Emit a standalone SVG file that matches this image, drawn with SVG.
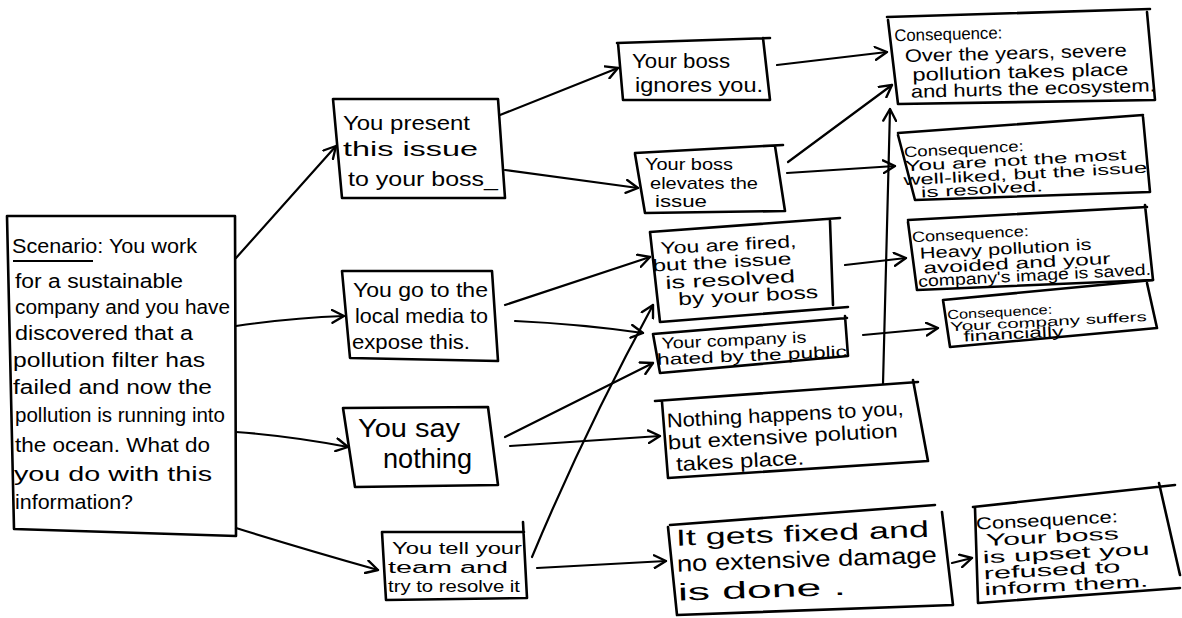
<svg xmlns="http://www.w3.org/2000/svg" width="1182" height="618" viewBox="0 0 1182 618">
<style>
.box{fill:none;stroke:#000;stroke-width:2.6;stroke-linecap:round;stroke-linejoin:round}
.con{fill:none;stroke:#000;stroke-width:2.2;stroke-linecap:round;marker-end:url(#arr)}
.t{font-family:"Liberation Sans",Arial,sans-serif;fill:#000;font-size:20px}
</style>
<defs>
<marker id="arr" viewBox="0 0 14 14" refX="12" refY="7" markerWidth="15" markerHeight="15" markerUnits="userSpaceOnUse" orient="auto">
<path d="M1,1 L12,7 L1,13" fill="none" stroke="#000" stroke-width="2.2" stroke-linecap="round" stroke-linejoin="round"/>
</marker>
</defs>
<rect width="1182" height="618" fill="#fff"/>

<g id="connectors">
<path class="con" d="M236,258 L336,146"/>
<path class="con" d="M236,326 Q290,318 344,316"/>
<path class="con" d="M236,432 Q290,436 348,447"/>
<path class="con" d="M236,528 Q300,548 378,570"/>
<path class="con" d="M500,115 L618,68"/>
<path class="con" d="M505,170 L638,188"/>
<path class="con" d="M505,305 L650,257"/>
<path class="con" d="M515,321 Q580,324 643,333"/>
<path class="con" d="M505,437 L653,363"/>
<path class="con" d="M510,446 L660,436"/>
<path class="con" d="M532,557 Q585,430 653,305"/>
<path class="con" d="M537,568 L666,561"/>
<path class="con" d="M777,65 L887,52"/>
<path class="con" d="M788,162 L892,85"/>
<path class="con" d="M787,173 L895,166"/>
<path class="con" d="M845,265 L906,258"/>
<path class="con" d="M863,335 L938,328"/>
<path class="con" d="M883,384 L890,109"/>
<path class="con" d="M952,563 L972,558"/>
</g>

<g id="scenario">
<path class="box" d="M7,216 L235,216 L236,536 L14,529 Z"/>
<line x1="13" y1="261" x2="93" y2="261" stroke="#000" stroke-width="2"/>
<text class="t" x="12" y="253" textLength="185" lengthAdjust="spacingAndGlyphs">Scenario: You work</text>
<text class="t" x="15" y="288" textLength="168" lengthAdjust="spacingAndGlyphs">for a sustainable</text>
<text class="t" x="15" y="314" textLength="215" lengthAdjust="spacingAndGlyphs">company and you have</text>
<text class="t" x="15" y="340" textLength="178" lengthAdjust="spacingAndGlyphs">discovered that a</text>
<text class="t" x="13" y="367" textLength="192" lengthAdjust="spacingAndGlyphs">pollution filter has</text>
<text class="t" x="13" y="394" textLength="199" lengthAdjust="spacingAndGlyphs">failed and now the</text>
<text class="t" x="15" y="422" textLength="210" lengthAdjust="spacingAndGlyphs">pollution is running into</text>
<text class="t" x="15" y="452" textLength="195" lengthAdjust="spacingAndGlyphs">the ocean. What do</text>
<text class="t" x="14" y="481" textLength="198" lengthAdjust="spacingAndGlyphs">you do with this</text>
<text class="t" x="15" y="509" textLength="118" lengthAdjust="spacingAndGlyphs">information?</text>
</g>

<g id="present">
<path class="box" d="M333,99 L498,99 L505,198 L342,198 Z"/>
<text class="t" style="font-size:21px" x="343" y="130" textLength="127" lengthAdjust="spacingAndGlyphs">You present</text>
<text class="t" style="font-size:21px" x="343" y="156" textLength="135" lengthAdjust="spacingAndGlyphs">this issue</text>
<text class="t" style="font-size:21px" x="348" y="186" textLength="150" lengthAdjust="spacingAndGlyphs">to your boss_</text>
</g>

<g id="media">
<path class="box" d="M342,271 L492,271 L498,361 L350,358 Z"/>
<text class="t" style="font-size:21px" x="353" y="297" textLength="135" lengthAdjust="spacingAndGlyphs">You go to the</text>
<text class="t" style="font-size:21px" x="355" y="323" textLength="133" lengthAdjust="spacingAndGlyphs">local media to</text>
<text class="t" style="font-size:21px" x="352" y="349" textLength="118" lengthAdjust="spacingAndGlyphs">expose this.</text>
</g>

<g id="nothing">
<path class="box" d="M343,408 L488,407 L498,485 L355,487 Z"/>
<text class="t" style="font-size:26px" x="358" y="437" textLength="102" lengthAdjust="spacingAndGlyphs">You say</text>
<text class="t" style="font-size:28px" x="383" y="468" textLength="89" lengthAdjust="spacingAndGlyphs">nothing</text>
</g>

<g id="team">
<path class="box" d="M382,532 L524,532 M523,522 L527,598 L386,600 L382,532"/>
<text class="t" style="font-size:16px" x="392" y="554" textLength="130" lengthAdjust="spacingAndGlyphs">You tell your</text>
<text class="t" style="font-size:16px" x="388" y="573" textLength="120" lengthAdjust="spacingAndGlyphs">team and</text>
<text class="t" style="font-size:16px" x="388" y="592" textLength="132" lengthAdjust="spacingAndGlyphs">try to resolve it</text>
</g>

<g id="ignores">
<path class="box" d="M617,43 L770,38 M763,38 L770,100 L623,100 L618,43"/>
<text class="t" style="font-size:21px" x="632" y="68" textLength="98" lengthAdjust="spacingAndGlyphs">Your boss</text>
<text class="t" style="font-size:21px" x="635" y="92" textLength="128" lengthAdjust="spacingAndGlyphs">ignores you.</text>
</g>

<g id="elevates">
<path class="box" d="M635,153 L783,145 M775,146 L785,211 L645,213 L635,154"/>
<text class="t" style="font-size:17px" x="645" y="170" textLength="88" lengthAdjust="spacingAndGlyphs">Your boss</text>
<text class="t" style="font-size:17px" x="650" y="189" textLength="108" lengthAdjust="spacingAndGlyphs">elevates the</text>
<text class="t" style="font-size:17px" x="655" y="207" textLength="52" lengthAdjust="spacingAndGlyphs">issue</text>
</g>

<g id="fired">
<path class="box" d="M650,232 L840,218 M830,221 L833,305 M848,307 L660,322 L650,232"/>
<g transform="rotate(-3 740 275)">
<text class="t" style="font-size:17px" x="662" y="250" textLength="136" lengthAdjust="spacingAndGlyphs">You are fired,</text>
<text class="t" style="font-size:17px" x="653" y="267" textLength="139" lengthAdjust="spacingAndGlyphs">but the issue</text>
<text class="t" style="font-size:18px" x="665" y="285" textLength="130" lengthAdjust="spacingAndGlyphs">is resolved</text>
<text class="t" style="font-size:18px" x="677" y="302" textLength="140" lengthAdjust="spacingAndGlyphs">by your boss</text>
</g>
</g>

<g id="hated">
<path class="box" d="M653,334 L847,318 M845,316 L848,356 L660,373 L653,334"/>
<g transform="rotate(-2.5 750 355)">
<text class="t" style="font-size:16px" x="662" y="345" textLength="145" lengthAdjust="spacingAndGlyphs">Your company is</text>
<text class="t" style="font-size:16px" x="657" y="361" textLength="190" lengthAdjust="spacingAndGlyphs">hated by the public</text>
</g>
</g>

<g id="happens">
<path class="box" d="M655,401 L918,382 M913,380 L928,461 L668,478 L662,402"/>
<g transform="rotate(-3 790 440)">
<text class="t" style="font-size:20px" x="668" y="421" textLength="237" lengthAdjust="spacingAndGlyphs">Nothing happens to you,</text>
<text class="t" style="font-size:20px" x="668" y="443" textLength="230" lengthAdjust="spacingAndGlyphs">but extensive polution</text>
<text class="t" style="font-size:20px" x="675" y="465" textLength="128" lengthAdjust="spacingAndGlyphs">takes place.</text>
</g>
</g>

<g id="fixed">
<path class="box" d="M670,525 L935,505 M942,512 L953,605 L677,615 L668,527"/>
<g transform="rotate(-2 810 565)">
<text class="t" style="font-size:23px" x="677" y="541" textLength="253" lengthAdjust="spacingAndGlyphs">It gets fixed and</text>
<text class="t" style="font-size:23px" x="677" y="567" textLength="260" lengthAdjust="spacingAndGlyphs">no extensive damage</text>
<text class="t" style="font-size:24px" x="677" y="596" textLength="168" lengthAdjust="spacingAndGlyphs">is done .</text>
</g>
</g>

<g id="c1">
<path class="box" d="M887,17 L1150,9 M1147,12 L1155,100 L898,104 L888,20"/>
<g transform="rotate(-1.5 1020 60)">
<text class="t" style="font-size:17px" x="895" y="38" textLength="108" lengthAdjust="spacingAndGlyphs">Consequence:</text>
<text class="t" style="font-size:18px" x="905" y="59" textLength="222" lengthAdjust="spacingAndGlyphs">Over the years, severe</text>
<text class="t" style="font-size:18px" x="912" y="78" textLength="216" lengthAdjust="spacingAndGlyphs">pollution takes place</text>
<text class="t" style="font-size:18px" x="910" y="95" textLength="245" lengthAdjust="spacingAndGlyphs">and hurts the ecosystem.</text>
</g>
</g>

<g id="c2">
<path class="box" d="M898,133 L1143,115 M1143,117 L1150,192 L915,200 L898,135"/>
<g transform="rotate(-3 1025 170)">
<text class="t" style="font-size:15px" x="905" y="151" textLength="120" lengthAdjust="spacingAndGlyphs">Consequence:</text>
<text class="t" style="font-size:15px" x="905" y="165" textLength="222" lengthAdjust="spacingAndGlyphs">You are not the most</text>
<text class="t" style="font-size:15px" x="903" y="179" textLength="244" lengthAdjust="spacingAndGlyphs">well-liked, but the issue</text>
<text class="t" style="font-size:15px" x="920" y="192" textLength="122" lengthAdjust="spacingAndGlyphs">is resolved.</text>
</g>
</g>

<g id="c3">
<path class="box" d="M908,220 L1147,207 M1145,205 L1153,280 L917,290 L908,222"/>
<g transform="rotate(-3 1030 255)">
<text class="t" style="font-size:15px" x="913" y="236" textLength="117" lengthAdjust="spacingAndGlyphs">Consequence:</text>
<text class="t" style="font-size:16px" x="920" y="253" textLength="172" lengthAdjust="spacingAndGlyphs">Heavy pollution is</text>
<text class="t" style="font-size:16px" x="923" y="268" textLength="187" lengthAdjust="spacingAndGlyphs">avoided and your</text>
<text class="t" style="font-size:16px" x="917" y="281" textLength="233" lengthAdjust="spacingAndGlyphs">company's image is saved.</text>
</g>
</g>

<g id="c4">
<path class="box" d="M943,300 L1153,280 M1147,283 L1157,328 L950,347 L943,300"/>
<g transform="rotate(-3 1050 325)">
<text class="t" style="font-size:13px" x="948" y="314" textLength="105" lengthAdjust="spacingAndGlyphs">Consequence:</text>
<text class="t" style="font-size:13px" x="950" y="326" textLength="197" lengthAdjust="spacingAndGlyphs">Your company suffers</text>
<text class="t" style="font-size:15px" x="963" y="337" textLength="100" lengthAdjust="spacingAndGlyphs">financially</text>
</g>
</g>

<g id="c5">
<path class="box" d="M973,507 L1175,485 M1159,483 L1180,575 M1180,588 L978,603 L975,508"/>
<g transform="rotate(-3 1065 560)">
<text class="t" style="font-size:17px" x="978" y="525" textLength="142" lengthAdjust="spacingAndGlyphs">Consequence:</text>
<text class="t" style="font-size:17px" x="987" y="542" textLength="133" lengthAdjust="spacingAndGlyphs">Your boss</text>
<text class="t" style="font-size:17px" x="983" y="559" textLength="167" lengthAdjust="spacingAndGlyphs">is upset you</text>
<text class="t" style="font-size:17px" x="983" y="575" textLength="137" lengthAdjust="spacingAndGlyphs">refused to</text>
<text class="t" style="font-size:17px" x="983" y="591" textLength="164" lengthAdjust="spacingAndGlyphs">inform them.</text>
</g>
</g>
</svg>
